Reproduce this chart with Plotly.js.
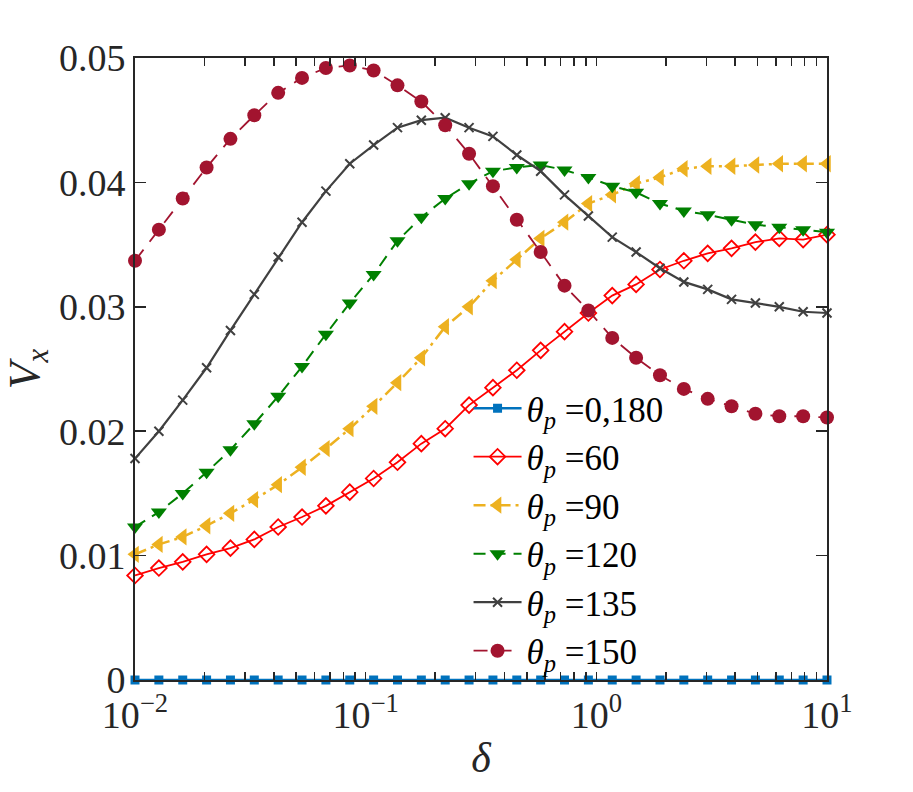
<!DOCTYPE html>
<html>
<head>
<meta charset="utf-8">
<script src="https://cdn.plot.ly/plotly-3.0.1.min.js"></script>
<style>
  html, body { margin: 0; padding: 0; background: #fff; }
  #chart { width: 913px; height: 792px; }
</style>
</head>
<body>
<div id="chart"></div>
<script>
// valores de delta (eje x, escala log)
var delta = [0.01, 0.012690, 0.016103, 0.020434, 0.025929, 0.032903, 0.041753, 0.052983, 0.067234, 0.085317,
             0.10826, 0.13738, 0.17433, 0.22122, 0.28072, 0.35622, 0.45204, 0.57362, 0.72790, 0.92367,
             1.1721, 1.4874, 1.8874, 2.3950, 3.0392, 3.8566, 4.8939, 6.2102, 7.8805, 10];

// Vx para cada angulo theta_p
var vx0_180 = [0, 0, 0, 0, 0, 0, 0, 0, 0, 0, 0, 0, 0, 0, 0, 0, 0, 0, 0, 0, 0, 0, 0, 0, 0, 0, 0, 0, 0, 0];
var vx60  = [0.0084, 0.0090, 0.0095, 0.0101, 0.0106, 0.0113, 0.0123, 0.0131, 0.0140, 0.0151,
             0.0162, 0.0175, 0.0190, 0.0202, 0.0221, 0.0235, 0.0249, 0.0265, 0.0280, 0.0295,
             0.0309, 0.0318, 0.0330, 0.0337, 0.0343, 0.0347, 0.0352, 0.0355, 0.0354, 0.0358];
var vx90  = [0.0101, 0.0109, 0.0115, 0.0124, 0.0134, 0.0145, 0.0157, 0.0171, 0.0186, 0.0202,
             0.0220, 0.0239, 0.0259, 0.0284, 0.0300, 0.0321, 0.0338, 0.0355, 0.0368, 0.0383,
             0.0390, 0.0399, 0.0404, 0.0411, 0.0413, 0.0413, 0.0414, 0.0415, 0.0415, 0.0415];
var vx120 = [0.0123, 0.0135, 0.0150, 0.0167, 0.0185, 0.0206, 0.0228, 0.0252, 0.0278, 0.0303,
             0.0326, 0.0353, 0.0372, 0.0387, 0.0399, 0.0409, 0.0412, 0.0414, 0.0410, 0.0404,
             0.0397, 0.0392, 0.0383, 0.0377, 0.0374, 0.0370, 0.0366, 0.0364, 0.0362, 0.0360];
var vx135 = [0.0178, 0.0200, 0.0225, 0.0251, 0.0281, 0.0310, 0.0340, 0.0368, 0.0393, 0.0415,
             0.0430, 0.0444, 0.0450, 0.0452, 0.0444, 0.0437, 0.0422, 0.0409, 0.0390, 0.0373,
             0.0356, 0.0344, 0.0331, 0.0320, 0.0314, 0.0306, 0.0303, 0.0300, 0.0296, 0.0295];
var vx150 = [0.0337, 0.0362, 0.0387, 0.0412, 0.0435, 0.0454, 0.0472, 0.0484, 0.0492, 0.0494,
             0.0490, 0.0478, 0.0465, 0.0446, 0.0423, 0.0397, 0.0370, 0.0344, 0.0317, 0.0297,
             0.0275, 0.0259, 0.0245, 0.0234, 0.0226, 0.0220, 0.0214, 0.0212, 0.0212, 0.0211];

// etiquetas de la leyenda y de los ejes
var nombres = ['0,180', '60', '90', '120', '135', '150'];
var xTickVals = [0.01, 0.1, 1, 10];
var xTickText = ['10<sup>\u22122</sup>', '10<sup>\u22121</sup>', '10<sup>0</sup>', '10<sup>1</sup>'];
// marcas menores 2..9 de cada decada (sin texto)
var xMinorVals = [0.02, 0.03, 0.04, 0.05, 0.06, 0.07, 0.08, 0.09,
                  0.2, 0.3, 0.4, 0.5, 0.6, 0.7, 0.8, 0.9,
                  2, 3, 4, 5, 6, 7, 8, 9];
var yTickVals = [0, 0.01, 0.02, 0.03, 0.04, 0.05];
var yTickText = ['0', '0.01', '0.02', '0.03', '0.04', '0.05'];

var fuente = 'Liberation Serif, DejaVu Serif, serif';
var ejeColor = '#262626';

function etiqueta(n) {
    return '<i>\u03b8</i><sub><i>p</i></sub> =' + n;
}

// marcas mayores + menores en el mismo eje
var xTodasVals = xTickVals.concat(xMinorVals);
var xTodasText = xTickText.concat(xMinorVals.map(function () { return ''; }));

var trace1 = {
    x: delta, y: vx0_180, name: etiqueta(nombres[0]),
    type: 'scatter', mode: 'lines+markers', cliponaxis: false,
    line: { color: '#0072BD', width: 2.5 },
    marker: { symbol: 'square', size: 9, color: '#0072BD' }
};
var trace2 = {
    x: delta, y: vx60, name: etiqueta(nombres[1]),
    type: 'scatter', mode: 'lines+markers', cliponaxis: false,
    line: { color: '#FF0000', width: 1.8 },
    marker: { symbol: 'diamond-open', size: 12, color: '#FF0000', line: { width: 1.8 } }
};
var trace3 = {
    x: delta, y: vx90, name: etiqueta(nombres[2]),
    type: 'scatter', mode: 'lines+markers', cliponaxis: false,
    line: { color: '#EDB120', width: 2.5, dash: '12px,5px,3px,5px' },
    marker: { symbol: 'triangle-left', size: 15, color: '#EDB120' }
};
var trace4 = {
    x: delta, y: vx120, name: etiqueta(nombres[3]),
    type: 'scatter', mode: 'lines+markers', cliponaxis: false,
    line: { color: '#008000', width: 2, dash: '12px,8px' },
    marker: { symbol: 'triangle-down', size: 14, color: '#008000' }
};
var trace5 = {
    x: delta, y: vx135, name: etiqueta(nombres[4]),
    type: 'scatter', mode: 'lines+markers', cliponaxis: false,
    line: { color: '#404040', width: 2.2 },
    marker: { symbol: 'x-thin-open', size: 9, color: '#404040', line: { width: 2, color: '#404040' } }
};
var trace6 = {
    x: delta, y: vx150, name: etiqueta(nombres[5]),
    type: 'scatter', mode: 'lines+markers', cliponaxis: false,
    line: { color: '#A2142F', width: 1.8, dash: '14px,10px' },
    marker: { symbol: 'circle', size: 14, color: '#A2142F' }
};

var data = [trace1, trace2, trace3, trace4, trace5, trace6];

var layout = {
    width: 913,
    height: 792,
    paper_bgcolor: '#ffffff',
    plot_bgcolor: '#ffffff',
    margin: { l: 135, r: 86, t: 58, b: 112 },
    font: { family: fuente, size: 38, color: ejeColor },
    showlegend: true,
    xaxis: {
        type: 'log',
        range: [-2, 1],
        tickmode: 'array',
        tickvals: xTodasVals,
        ticktext: xTodasText,
        ticks: 'inside',
        ticklen: 8,
        tickwidth: 1.5,
        tickcolor: ejeColor,
        showline: true,
        linecolor: ejeColor,
        linewidth: 2,
        mirror: 'ticks',
        showgrid: false,
        zeroline: false,
        tickfont: { family: fuente, size: 38, color: ejeColor },
        title: { text: '<i>\u03b4</i>', font: { family: fuente, size: 42, color: ejeColor }, standoff: 8 }
    },
    yaxis: {
        range: [0, 0.05],
        tickvals: yTickVals,
        ticktext: yTickText,
        ticks: 'inside',
        ticklen: 11,
        tickwidth: 1.5,
        tickcolor: ejeColor,
        showline: true,
        linecolor: ejeColor,
        linewidth: 2,
        mirror: 'ticks',
        showgrid: false,
        zeroline: false,
        tickfont: { family: fuente, size: 38, color: ejeColor },
        title: { text: '<i>V</i><sub><i>x</i></sub>', font: { family: fuente, size: 44, color: ejeColor }, standoff: 6 }
    },
    legend: {
        x: 0.482,
        y: 0.484,
        xanchor: 'left',
        yanchor: 'top',
        bgcolor: 'rgba(0,0,0,0)',
        borderwidth: 0,
        itemwidth: 48,
        tracegroupgap: 0,
        font: { family: fuente, size: 35, color: '#000000' }
    }
};

var config = { displayModeBar: false, staticPlot: true };

Plotly.newPlot('chart', data, layout, config);
</script>
</body>
</html>
